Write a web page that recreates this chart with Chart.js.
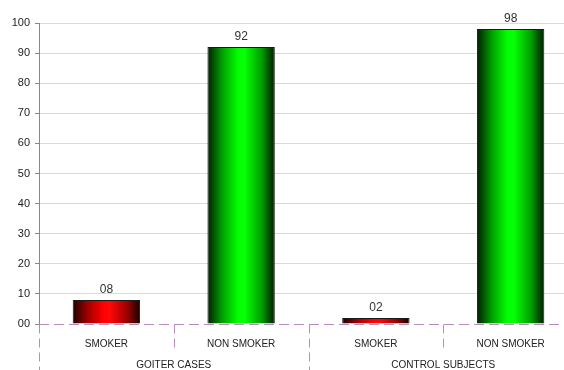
<!DOCTYPE html>
<html>
<head>
<meta charset="utf-8">
<script src="https://cdn.jsdelivr.net/npm/chart.js@4"></script>
<style>
  html, body { margin: 0; padding: 0; background: #fff; overflow: hidden; }
  #wrap { width: 578px; height: 370px; position: relative; }
</style>
</head>
<body>
<div id="wrap"><canvas id="c" width="578" height="370"></canvas></div>
<script>
const categories = ['SMOKER', 'NON SMOKER', 'SMOKER', 'NON SMOKER'];
const groups = ['GOITER CASES', 'CONTROL SUBJECTS'];
const values = [8, 92, 2, 98];
const valueLabels = ['08', '92', '02', '98'];
const barKinds = ['red', 'green', 'red', 'green'];
const yTickLabels = ['00', '10', '20', '30', '40', '50', '60', '70', '80', '90', '100'];

const FONT = '"Liberation Sans", Arial, sans-serif';
const DASH_COLOR = '#b98cb9';

const gradientStops = {
  red:   ['#1e0000', '#a00000', '#ff0000', '#ff0808', '#a00000', '#180000'],
  green: ['#001e00', '#00a000', '#00ff00', '#08ff08', '#00a000', '#001800']
};
const flatColor = { red: '#e00000', green: '#00e000' };

function barFill(ctx) {
  const chart = ctx.chart;
  const xs = chart.scales.x;
  const kind = barKinds[ctx.dataIndex] || 'red';
  if (!chart.chartArea || !xs || ctx.dataIndex === undefined) return flatColor[kind];
  const cx = xs.getPixelForValue(ctx.dataIndex);
  const w = (xs.width / categories.length) * 0.5;
  if (!isFinite(cx) || !isFinite(w) || w <= 0) return flatColor[kind];
  const g = chart.ctx.createLinearGradient(cx - w / 2, 0, cx + w / 2, 0);
  const stops = gradientStops[kind];
  const pos = [0, 0.22, 0.45, 0.55, 0.8, 1];
  stops.forEach((c, i) => g.addColorStop(pos[i], c));
  return g;
}

const extras = {
  id: 'extras',
  afterDatasetsDraw(chart) {
    const c = chart.ctx;
    const meta = chart.getDatasetMeta(0);
    c.save();
    c.font = '12px ' + FONT;
    c.fillStyle = '#333';
    c.textAlign = 'center';
    c.textBaseline = 'bottom';
    meta.data.forEach((el, i) => {
      c.fillText(valueLabels[i], el.x, el.y - 4);
    });
    c.restore();
  },
  afterDraw(chart) {
    const c = chart.ctx;
    const xs = chart.scales.x;
    const area = chart.chartArea;
    const n = categories.length;
    const step = xs.width / n;
    c.save();
    c.strokeStyle = DASH_COLOR;
    c.lineWidth = 1;
    c.setLineDash([10, 5]);
    // zero line (dashed)
    const y0 = Math.round(chart.scales.y.getPixelForValue(0)) + 0.5;
    c.beginPath();
    c.moveTo(xs.left, y0);
    c.lineTo(xs.right, y0);
    c.stroke();
    c.setLineDash([9, 5]);
    for (let i = 0; i <= n; i++) {
      const x = Math.round(xs.left + i * step) + 0.5;
      const isGroup = i % 2 === 0;
      c.beginPath();
      c.moveTo(x, y0);
      c.lineTo(x, isGroup ? chart.height : y0 + 24);
      c.stroke();
    }
    c.setLineDash([]);
    c.font = '10px ' + FONT;
    c.fillStyle = '#222';
    c.textAlign = 'center';
    c.textBaseline = 'middle';
    groups.forEach((g, gi) => {
      const gx = xs.left + (gi * 2 + 1) * step;
      c.fillText(g, gx, area.bottom + 41);
    });
    c.restore();
  }
};

const chart = new Chart(document.getElementById('c'), {
  type: 'bar',
  data: {
    labels: categories,
    datasets: [{
      data: values,
      backgroundColor: barFill,
      borderColor: '#1a1a1a',
      borderWidth: 1,
      barPercentage: 0.5,
      categoryPercentage: 1.0
    }]
  },
  options: {
    responsive: false,
    animation: false,
    layout: { padding: { top: 23, left: 0, right: 0, bottom: 0 } },
    plugins: { legend: { display: false }, tooltip: { enabled: false } },
    scales: {
      x: {
        offset: true,
        afterFit(s) { s.height = 46; },
        grid: { display: false, drawOnChartArea: false },
        border: { display: false },
        ticks: {
          font: { family: FONT, size: 10 },
          color: '#222',
          padding: 6,
          maxRotation: 0,
          autoSkip: false
        }
      },
      y: {
        min: 0,
        max: 100,
        afterFit(s) { s.width = 39; },
        grid: {
          color: (ctx) => (ctx.tick && ctx.tick.value === 0) ? 'rgba(0,0,0,0)' : '#dadada',
          tickColor: '#888',
          tickLength: 4,
          lineWidth: 1
        },
        border: { display: true, color: '#888', width: 1 },
        ticks: {
          stepSize: 10,
          padding: 5,
          font: { family: FONT, size: 11 },
          color: '#222',
          callback: (v, i) => yTickLabels[i]
        }
      }
    }
  },
  plugins: [extras]
});
chart.update('none');
</script>
</body>
</html>
